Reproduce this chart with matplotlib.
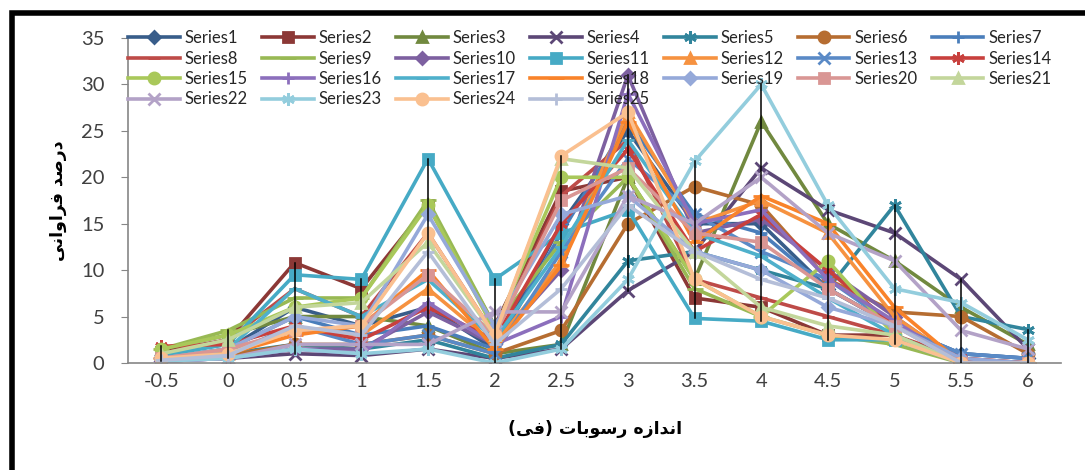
import matplotlib.pyplot as plt
from matplotlib.patches import Rectangle
import numpy as np

# x categories (phi size classes)
categories = ['-0.5', '0', '0.5', '1', '1.5', '2', '2.5', '3', '3.5', '4', '4.5', '5', '5.5', '6']

s1 = [0.5, 1.5, 6, 4, 6, 1.5, 15, 25, 15, 15, 8, 4, 1, 0.5]
s2 = [1.2, 2.5, 10.8, 8, 17, 4, 18.5, 20, 7, 6, 3, 3, 0, 0]
s3 = [1.5, 3, 5, 5, 4, 1, 2, 20, 9, 26, 15, 11, 6, 2]
s4 = [0.2, 0.5, 1, 0.8, 1.5, 0.5, 1.5, 7.8, 12, 21, 16.5, 14, 9, 1.5]
s5 = [0.3, 1, 2, 1.5, 2.5, 0.5, 2, 11, 12, 10, 8, 17, 5, 3.6]
s6 = [0.3, 0.8, 2, 2, 3, 1, 3.5, 15, 19, 17, 9, 5.5, 5, 1]
s7 = [0.5, 1.5, 5, 3, 4, 1.5, 14, 26, 16, 14, 8, 4, 1, 0.5]
s8 = [1, 2.5, 8, 5, 14, 3, 18, 24, 9, 7, 5, 3, 0.5, 0]
s9 = [1.5, 3.5, 7, 7, 17.5, 4, 13, 20, 8, 5, 3, 2, 0, 0]
s10 = [0.2, 0.5, 1.5, 1.5, 5.5, 2, 10, 31, 14, 15.5, 10, 5, 0, 0]
s11 = [0.8, 2, 9.5, 9, 22, 9, 14, 16.5, 4.8, 4.5, 2.5, 2.5, 0, 0]
s12 = [0.5, 1, 3.5, 3, 8, 2, 11, 27, 15, 17.5, 14, 5, 0, 0]
s13 = [0.3, 1, 4, 2, 3, 1, 12, 22, 16, 12, 9, 4, 1, 0.5]
s14 = [1.8, 2, 4, 2.5, 6, 2.5, 15, 23, 12, 16, 10, 4, 0.5, 0]
s15 = [1.5, 3, 6, 7, 17, 3.5, 20, 20, 9, 5, 11, 3, 0, 0]
s16 = [0.2, 0.5, 1.5, 1, 6.5, 2, 5, 29, 15, 16.5, 9, 4.5, 0, 0]
s17 = [0.5, 1.5, 8, 5, 9, 2.5, 12.5, 24, 14, 11.5, 7, 3, 0, 0]
s18 = [0.5, 1, 3, 4, 10, 1.5, 10.5, 26, 13, 18, 15, 6, 0, 0]
s19 = [0.5, 1.5, 5, 4, 16, 4, 16, 18, 12, 10, 6, 4, 0.5, 0]
s20 = [0.5, 1.5, 3.5, 4, 9.5, 3, 17.5, 21, 14, 13, 8, 4, 0, 0]
s21 = [1, 2.5, 6, 6.5, 13, 3, 22, 21, 12, 6, 4, 3, 0, 0]
s22 = [0.2, 0.5, 2, 2, 2, 5.5, 5.5, 18, 15, 20, 14, 11, 3.5, 1.5]
s23 = [0.2, 0.5, 1.5, 1, 1.5, 0, 1.5, 9, 21.7, 30, 17, 8, 6.5, 2.5]
s24 = [0.5, 1, 3.5, 4, 14, 3, 22.3, 27, 9, 5, 3, 2.5, 0, 0]
s25 = [0.3, 0.8, 4, 3, 12, 2, 8, 17, 12, 9, 7, 4, 0, 0]

series = [s1, s2, s3, s4, s5, s6, s7, s8, s9, s10, s11, s12, s13,
          s14, s15, s16, s17, s18, s19, s20, s21, s22, s23, s24, s25]
names = ['Series%d' % (i + 1) for i in range(len(series))]

colors = ['#385D8A', '#8C3836', '#71893F', '#5C4776', '#31859C', '#B66D31',
          '#4A7EBB', '#BE4B48', '#98B954', '#7D60A0', '#46AAC5', '#F69240',
          '#5A8AC6', '#C8403D', '#A9C85A', '#8C6FBC', '#4FB0CB', '#F9832A',
          '#95A9D9', '#D99694', '#C3D69B', '#B3A2C7', '#93CDDD', '#FAC090',
          '#B4BED8']
# excel marker cycle: diamond, square, triangle, x, star, circle, plus, dash, long dash
markers = ['D', 's', '^', 'x', (6, 2, 0), 'o', '+', '_', '_']
msizes = [6, 7, 7, 8, 9, 8, 9, 8, 11]

plt.rcParams['font.family'] = ['Lato', 'DejaVu Sans']

fig = plt.figure(figsize=(10.85, 4.7), dpi=100)
ax = fig.add_axes([0.118, 0.2277, 0.86, 0.6915])

x = np.arange(len(categories))
handles = []
for i, ys in enumerate(series):
    m = markers[i % 9]
    ms = msizes[i % 9]
    ln, = ax.plot(x, ys, color=colors[i], lw=2.6, marker=m, markersize=ms,
                  markerfacecolor=colors[i], markeredgecolor=colors[i],
                  markeredgewidth=2, label=names[i], zorder=2 + i * 0.01,
                  solid_joinstyle='miter', clip_on=True)
    handles.append(ln)

# high-low lines (min to max over all series at each category)
data = np.array(series)
lo = data.min(axis=0)
hi = data.max(axis=0)
for xi, a, b in zip(x, lo, hi):
    ax.plot([xi, xi], [a, b], color='black', lw=1.1, zorder=5, clip_on=True)

ax.set_xlim(-0.5, len(categories) - 0.5)
ax.set_ylim(0, 35)
ax.set_yticks(range(0, 36, 5))
ax.set_xticks(x)
ax.set_xticklabels(categories)
for sp in ['top', 'right']:
    ax.spines[sp].set_visible(False)
for sp in ['left', 'bottom']:
    ax.spines[sp].set_color('#868686')
    ax.spines[sp].set_linewidth(1.2)
ax.tick_params(axis='y', length=5, color='#868686', labelsize=14.5, labelcolor='#404040', pad=12)
ax.tick_params(axis='x', which='both', length=0, labelsize=14.5, labelcolor='#404040', pad=7)

# persian labels (pre-shaped, visual order)
ylab = '\uFEF0\uFEE7\uFE8D\uFEED\uFE8D\uFEAE\uFED3 \uFEAA\uFEBB\uFEAD\uFEA9'
xlab = '(\uFEF0\uFED3) \uFE95\uFE8E\uFE91\uFEEE\uFEB3\uFEAD \uFEE9\uFEAF\uFE8D\uFEAA\uFEE7\uFE8D'
ax.set_ylabel(ylab, family=['DejaVu Sans'], fontweight='bold', fontsize=12.5, labelpad=10)
ax.set_xlabel(xlab, family=['DejaVu Sans'], fontweight='bold', fontsize=12.5, labelpad=22)

# legend in row-major order like excel
order = []
for c in range(7):
    for r in range(4):
        k = r * 7 + c
        if k < len(handles):
            order.append(k)
leg = ax.legend([handles[k] for k in order], [names[k] for k in order],
                ncol=7, loc='upper left', bbox_to_anchor=(128 / 1085, 1 - 30 / 470),
                bbox_transform=fig.transFigure, frameon=False, fontsize=12,
                handlelength=3.1, handletextpad=0.3, columnspacing=0.85,
                labelspacing=0.27, borderpad=0, borderaxespad=0)
for t in leg.get_texts():
    t.set_color('#262626')

# black frame around the figure (right/bottom edges fall outside)
fig.patches.append(Rectangle((12 / 1085, -0.05), 1.2, 1 - 13 / 470 + 0.05, transform=fig.transFigure,
                             fill=False, edgecolor='black', lw=4))

fig.savefig('out.png', dpi=100)
